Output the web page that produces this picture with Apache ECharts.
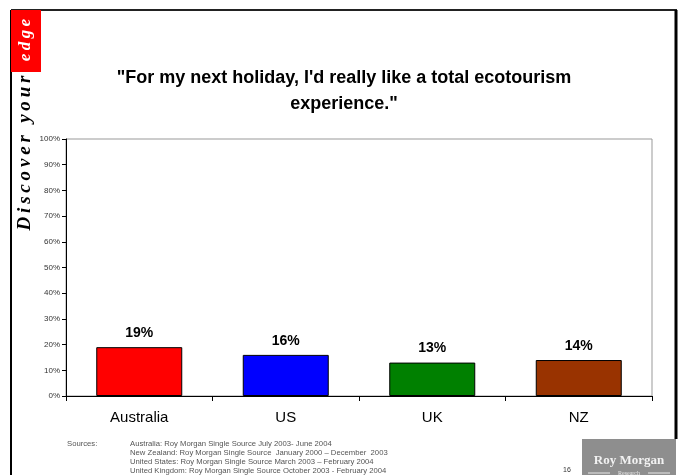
<!DOCTYPE html>
<html>
<head>
<meta charset="utf-8">
<script src="https://cdn.jsdelivr.net/npm/echarts@6/dist/echarts.min.js"></script>
<style>
  html, body { margin: 0; padding: 0; background: #fff; }
  #chart { width: 682px; height: 475px; }
</style>
</head>
<body>
<div id="chart"></div>
<script>
// Survey answers by country (percent agreeing)
var countries = ['Australia', 'US', 'UK', 'NZ'];
var shares = [19, 16, 13, 14];
var barColors = ['#ff0000', '#0000ff', '#008000', '#993300'];
var yTicks = { min: 0, max: 100, step: 10 };

var titleText = '"For my next holiday, I\'d really like a total ecotourism\nexperience."';
var sourceLines = [
  'Australia: Roy Morgan Single Source July 2003- June 2004',
  'New Zealand: Roy Morgan Single Source  January 2000 \u2013 December  2003',
  'United States: Roy Morgan Single Source March 2003 \u2013 February 2004',
  'United Kingdom: Roy Morgan Single Source October 2003 - February 2004'
];

function spaced(s) {
  return s.split('').join('\u2009');
}

var chart = echarts.init(document.getElementById('chart'), null, { renderer: 'canvas' });

var graphics = [
  // page frame
  { type: 'line', shape: { x1: 11, y1: 10, x2: 11, y2: 475 }, style: { stroke: '#000', lineWidth: 2 } },
  { type: 'line', shape: { x1: 11, y1: 10, x2: 677, y2: 10 }, style: { stroke: '#222', lineWidth: 2 } },
  { type: 'line', shape: { x1: 676, y1: 10, x2: 676, y2: 439 }, style: { stroke: '#000', lineWidth: 3 } },
  // red tag
  { type: 'rect', shape: { x: 11, y: 10, width: 30, height: 62 }, style: { fill: '#ff0000' } },
  {
    type: 'text', x: 26, y: 40, rotation: Math.PI / 2,
    style: {
      text: spaced('edge'), fill: '#fff', font: 'italic bold 17px "Liberation Serif", "DejaVu Serif", serif',
      textAlign: 'center', textVerticalAlign: 'middle'
    }
  },
  {
    type: 'text', x: 25, y: 153, rotation: Math.PI / 2,
    style: {
      text: spaced('Discover your'), fill: '#000', font: 'italic bold 19px "Liberation Serif", "DejaVu Serif", serif',
      textAlign: 'center', textVerticalAlign: 'middle'
    }
  },
  // headline
  {
    type: 'text', x: 344, y: 91,
    style: {
      text: titleText, fill: '#000', font: 'bold 18px "Liberation Sans", Arial, sans-serif',
      textAlign: 'center', textVerticalAlign: 'middle', lineHeight: 26
    }
  },
  // sources
  {
    type: 'text', x: 67, y: 444,
    style: { text: 'Sources:', fill: '#555', font: '7.7px "Liberation Sans", Arial, sans-serif', textVerticalAlign: 'middle' }
  },
  {
    type: 'text', x: 130, y: 439.5,
    style: {
      text: sourceLines.join('\n'), fill: '#555', font: '7.7px "Liberation Sans", Arial, sans-serif',
      textVerticalAlign: 'top', lineHeight: 9
    }
  },
  {
    type: 'text', x: 567, y: 470,
    style: { text: '16', fill: '#333', font: '7px "Liberation Sans", Arial, sans-serif', textAlign: 'center', textVerticalAlign: 'middle' }
  },
  // company logo
  { type: 'rect', shape: { x: 582, y: 439, width: 94, height: 36 }, style: { fill: '#8e8e8e' } },
  {
    type: 'text', x: 629, y: 461,
    style: { text: 'Roy Morgan', fill: '#f2f2f2', font: 'bold 13px "Liberation Serif", "DejaVu Serif", serif', textAlign: 'center', textVerticalAlign: 'middle' }
  },
  { type: 'line', shape: { x1: 588, y1: 473, x2: 610, y2: 473 }, style: { stroke: '#e8e8e8', lineWidth: 1 } },
  { type: 'line', shape: { x1: 648, y1: 473, x2: 670, y2: 473 }, style: { stroke: '#e8e8e8', lineWidth: 1 } },
  {
    type: 'text', x: 629, y: 473,
    style: { text: 'Research', fill: '#e8e8e8', font: '6px "Liberation Serif", serif', textAlign: 'center', textVerticalAlign: 'middle' }
  }
];

chart.setOption({
  animation: false,
  backgroundColor: '#fff',
  grid: {
    left: 66, top: 139, right: 30, bottom: 79,
    show: true, borderColor: '#999', borderWidth: 1, backgroundColor: 'transparent'
  },
  xAxis: {
    type: 'category',
    data: countries,
    axisLine: { lineStyle: { color: '#000', width: 1 } },
    axisTick: { show: true, length: 5, lineStyle: { color: '#000' } },
    axisLabel: { color: '#000', fontSize: 15, fontFamily: '"Liberation Sans", Arial, sans-serif', margin: 14 }
  },
  yAxis: {
    type: 'value',
    min: yTicks.min, max: yTicks.max, interval: yTicks.step,
    axisLine: { show: true, lineStyle: { color: '#000', width: 1 } },
    axisTick: { show: true, length: 4, lineStyle: { color: '#000' } },
    axisLabel: { formatter: '{value}%', color: '#333', fontSize: 8, fontFamily: '"Liberation Sans", Arial, sans-serif', margin: 6 },
    splitLine: { show: false }
  },
  series: [{
    type: 'bar',
    barWidth: 86,
    data: shares.map(function (v, i) {
      return { value: v, itemStyle: { color: barColors[i], borderColor: '#000', borderWidth: 1 } };
    }),
    label: {
      show: true, position: 'top', distance: 7,
      formatter: '{c}%', color: '#000', fontSize: 14, fontWeight: 'bold',
      fontFamily: '"Liberation Sans", Arial, sans-serif'
    }
  }],
  graphic: graphics
});
</script>
</body>
</html>
